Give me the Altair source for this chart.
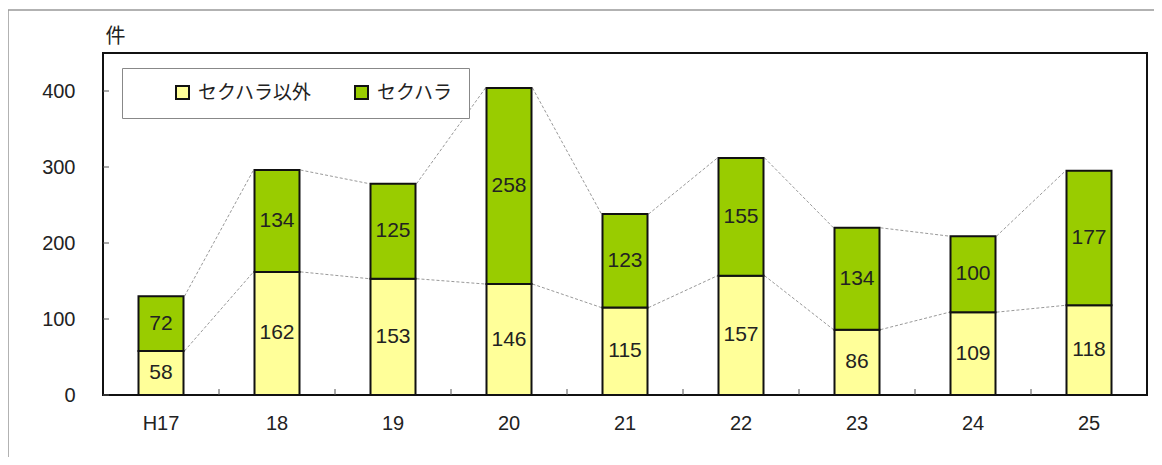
import altair as alt
import pandas as pd

years = ["H17", "18", "19", "20", "21", "22", "23", "24", "25"]
non_sh = [58, 162, 153, 146, 115, 157, 86, 109, 118]
sh = [72, 134, 125, 258, 123, 155, 134, 100, 177]
series = ["セクハラ以外", "セクハラ"]
colors = ["#FFFF99", "#99CC00"]
y_ticks = [0, 100, 200, 300, 400]

FONT = "Liberation Sans, Arial, Noto Sans CJK JP"

rows = []
for i, yr in enumerate(years):
    rows.append(dict(year=yr, series=series[0], value=non_sh[i], order=0,
                     y0=0, y1=non_sh[i]))
    rows.append(dict(year=yr, series=series[1], value=sh[i], order=1,
                     y0=non_sh[i], y1=non_sh[i] + sh[i]))
df = pd.DataFrame(rows)
df["mid"] = (df["y0"] + df["y1"]) / 2

segs = []
for i in range(len(years) - 1):
    segs.append(dict(a=years[i], b=years[i + 1], v=non_sh[i], v2=non_sh[i + 1]))
    segs.append(dict(a=years[i], b=years[i + 1], v=non_sh[i] + sh[i],
                     v2=non_sh[i + 1] + sh[i + 1]))
seg_df = pd.DataFrame(segs)

xs = alt.Scale(domain=years, paddingInner=0, paddingOuter=0)
ys = alt.Scale(domain=[0, 450], nice=False)

x_axis = alt.Axis(title=None, tickSize=0, domain=False, labelAngle=0,
                  labelFontSize=20, labelFont=FONT, labelColor="#222222",
                  labelPadding=18)
y_axis = alt.Axis(values=y_ticks, tickSize=0, domain=False, grid=False,
                  labelFontSize=20, labelFont=FONT, labelColor="#222222",
                  labelPadding=28, title="件", titleAngle=0, titleX=12,
                  titleY=-17, titleAlign="center", titleBaseline="middle",
                  titleFontSize=20, titleFontWeight="normal",
                  titleFont=FONT, titleColor="#222222")

connectors = alt.Chart(seg_df).mark_rule(
    xOffset=23.5, x2Offset=-23.5, color="#999999", strokeWidth=1, strokeDash=[3, 2]
).encode(
    x=alt.X("a:N", scale=xs, sort=years, axis=x_axis),
    x2="b:N",
    y=alt.Y("v:Q", scale=ys, axis=y_axis),
    y2="v2:Q",
)

bars = alt.Chart(df).mark_bar(size=45, stroke="#111111", strokeWidth=2).encode(
    x=alt.X("year:N", scale=xs, sort=years, axis=x_axis),
    y=alt.Y("y0:Q", scale=ys, axis=y_axis),
    y2="y1:Q",
    color=alt.Color("series:N",
                    scale=alt.Scale(domain=series, range=colors),
                    legend=alt.Legend(title="\u00a0\u00a0\u00a0\u00a0\u00a0\u00a0",
                                      titleOrient="right", titlePadding=0,
                                      titleFontSize=19, titleFont=FONT,
                                      orient="none", legendX=19, legendY=15,
                                      direction="horizontal", columns=2, gridAlign="all",
                                      fillColor="white", strokeColor="#888888",
                                      padding=15, symbolType="square", symbolSize=169,
                                      symbolStrokeColor="#111111", symbolStrokeWidth=2,
                                      symbolOffset=36, labelFontSize=19, labelFont=FONT,
                                      labelColor="#222222", columnPadding=3,
                                      labelOffset=6)),
    order="order:Q",
)

labels = alt.Chart(df).mark_text(fontSize=21, font=FONT, color="#222222").encode(
    x=alt.X("year:N", scale=xs, sort=years, axis=x_axis),
    y=alt.Y("mid:Q", scale=ys, axis=y_axis),
    text="value:Q",
)

ytick_df = pd.DataFrame({"t": y_ticks})
yticks = alt.Chart(ytick_df).mark_rule(color="#555555", strokeWidth=1).encode(
    x=alt.value(0), x2=alt.value(6), y=alt.Y("t:Q", scale=ys, axis=y_axis)
)

xtick_df = pd.DataFrame({"yr": years[1:]})
xticks = alt.Chart(xtick_df).mark_rule(color="#555555", strokeWidth=1).encode(
    x=alt.X("yr:N", scale=xs, sort=years, bandPosition=0, axis=x_axis),
    y=alt.value(342), y2=alt.value(336)
)

border_df = pd.DataFrame({"k": [0]})
border_top = alt.Chart(border_df).mark_rule(color="#999999", strokeWidth=1.5).encode(
    x=alt.value(-95), x2=alt.value(1060), y=alt.value(-43)
)
border_left = alt.Chart(border_df).mark_rule(color="#999999", strokeWidth=1.5).encode(
    x=alt.value(-95), y=alt.value(-43), y2=alt.value(420)
)

chart = alt.layer(
    connectors, bars, labels, yticks, xticks, border_top, border_left
).properties(
    width=1044, height=342,
    padding={"left": 95, "top": 45, "right": 7, "bottom": 62},
    autosize=alt.AutoSizeParams(type="none"),
    background="white",
).configure_view(
    stroke="#111111", strokeWidth=2
)

chart.save("out.html", embed_options={"renderer": "svg", "actions": False})
